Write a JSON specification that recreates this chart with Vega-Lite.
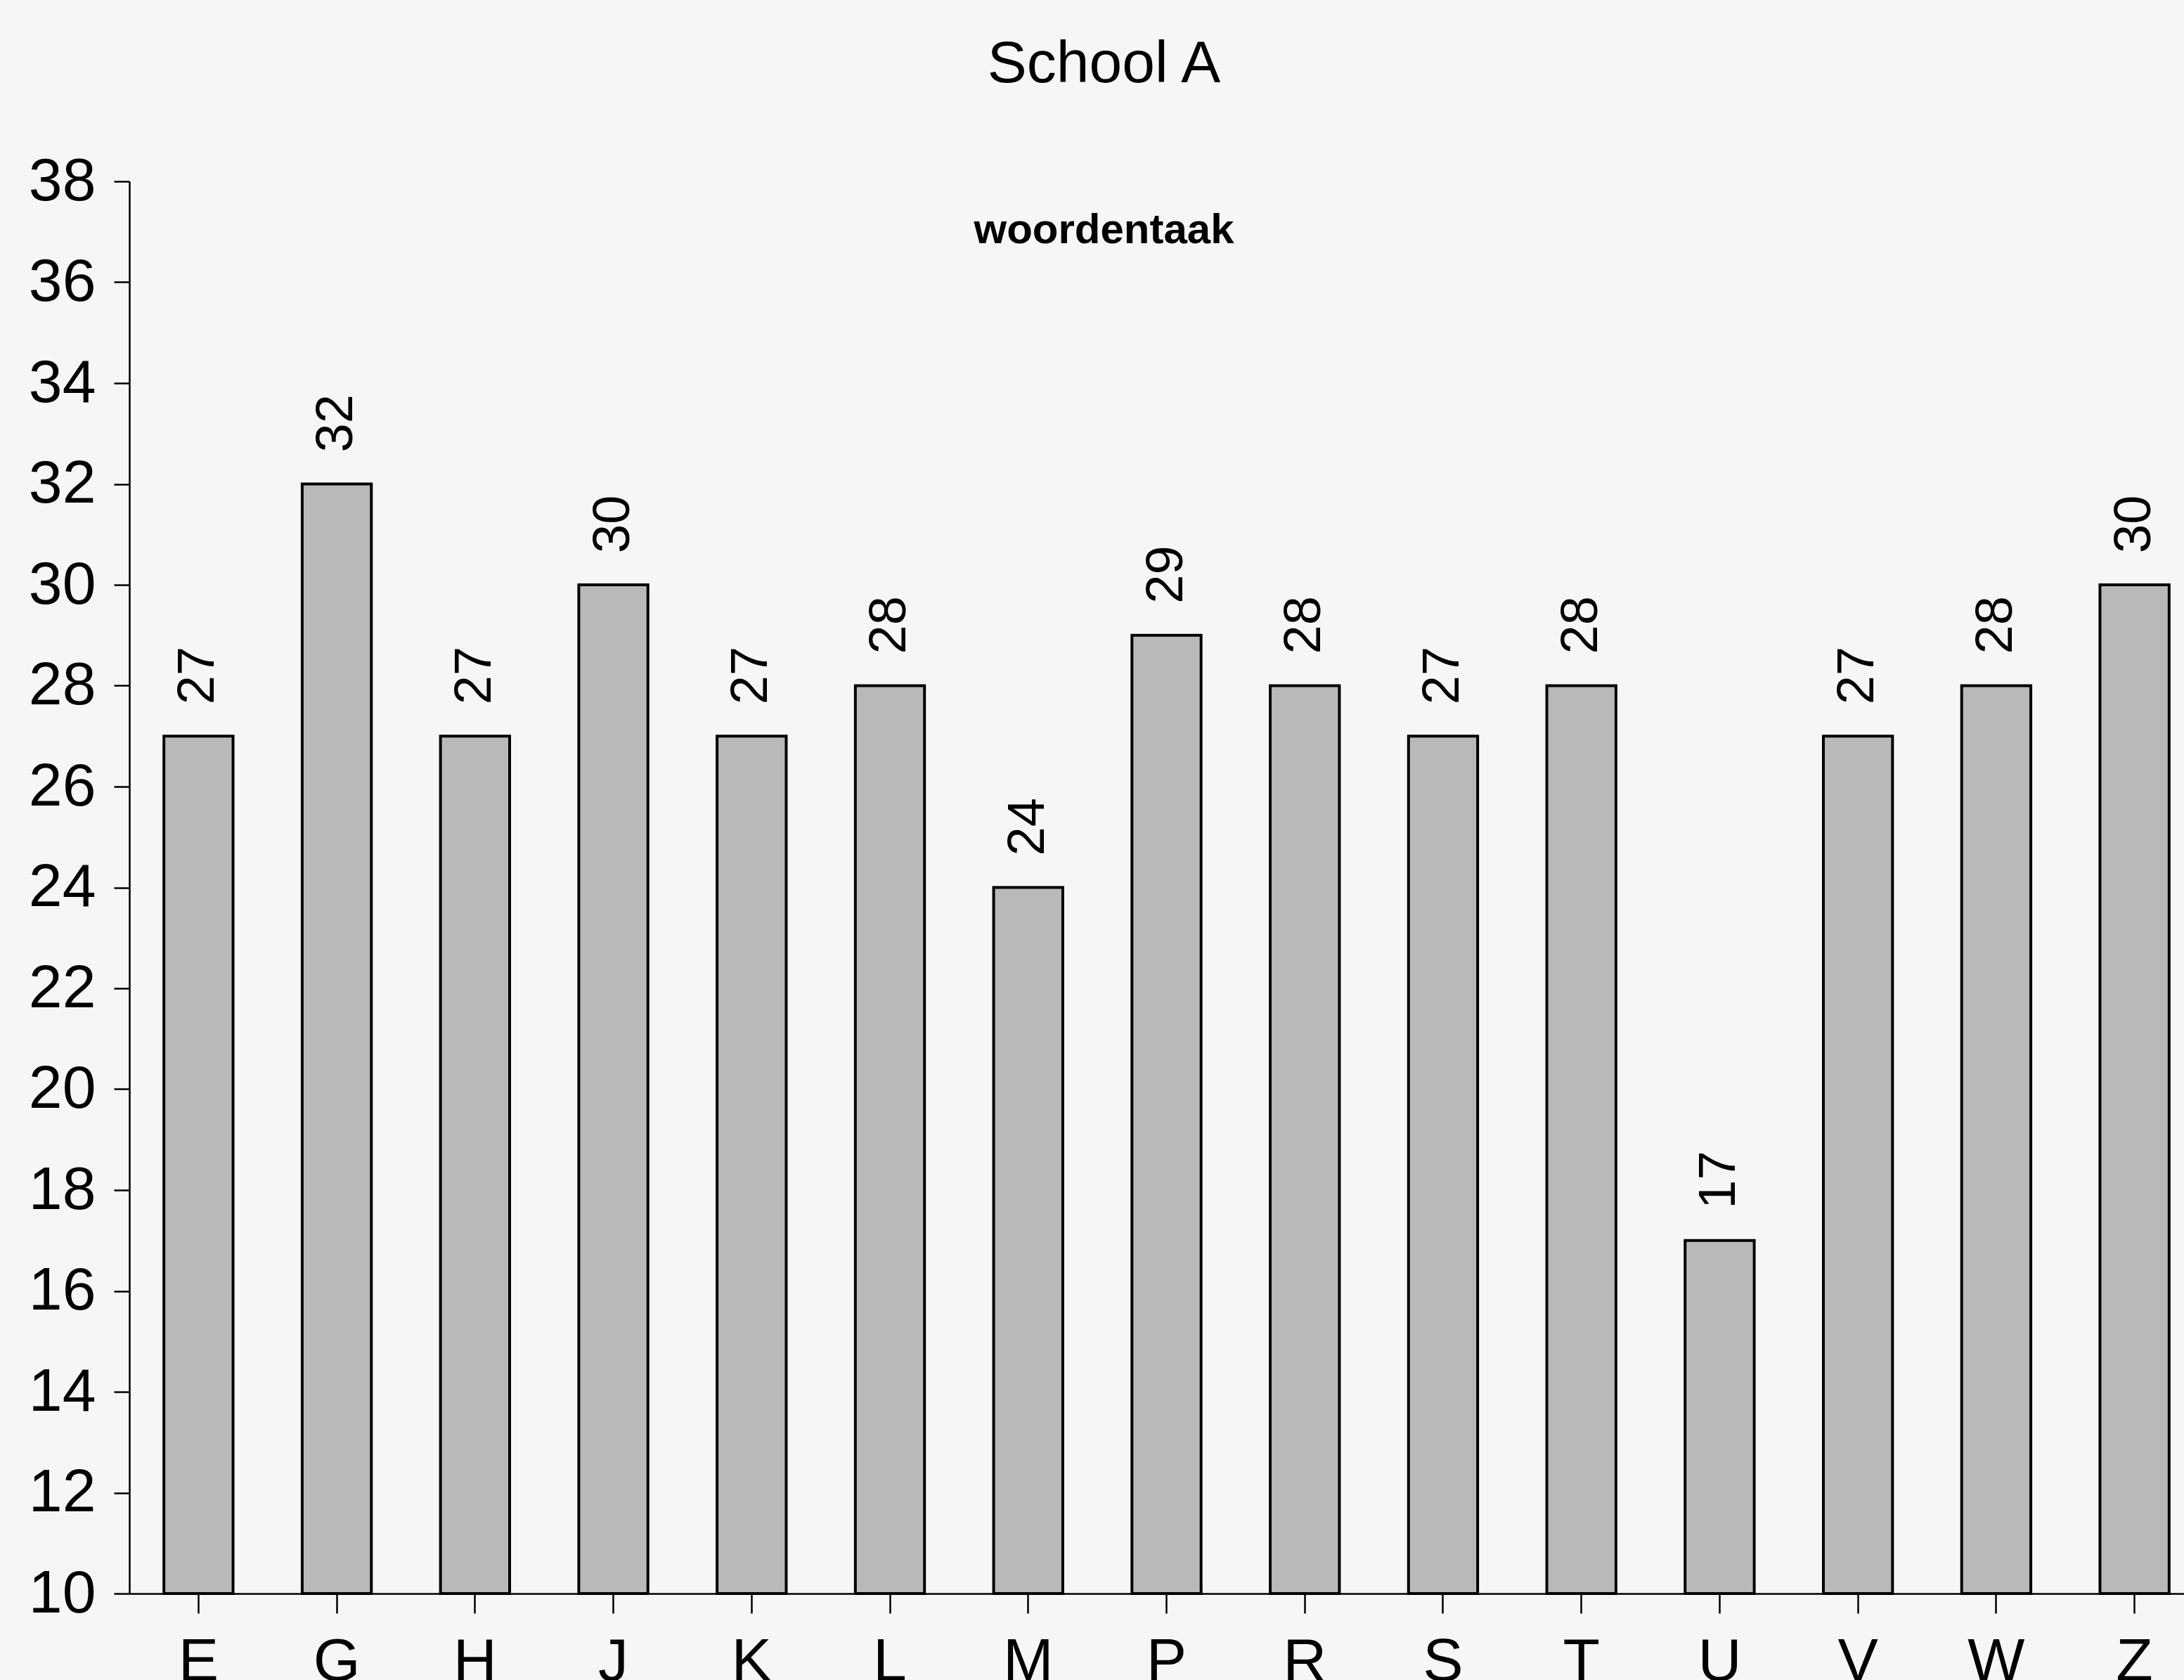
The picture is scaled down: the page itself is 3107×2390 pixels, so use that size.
{
  "$schema": "https://vega.github.io/schema/vega-lite/v6.json",
  "autosize": {"type": "none"},
  "width": 2951,
  "height": 2009,
  "padding": {"left": 184, "top": 258, "right": 0, "bottom": 123},
  "background": "#f6f6f6",
  "title": {
    "text": "School A",
    "subtitle": "woordentaak",
    "anchor": "middle",
    "frame": "group",
    "dx": -89,
    "offset": -144,
    "font": "Liberation Sans",
    "fontSize": 84,
    "fontWeight": "normal",
    "color": "black",
    "subtitleFont": "Liberation Sans",
    "subtitleFontSize": 60,
    "subtitleFontWeight": "bold",
    "subtitleColor": "black",
    "subtitlePadding": 164
  },
  "data": {
    "values": [
      {"school": "E", "score": 27},
      {"school": "G", "score": 32},
      {"school": "H", "score": 27},
      {"school": "J", "score": 30},
      {"school": "K", "score": 27},
      {"school": "L", "score": 28},
      {"school": "M", "score": 24},
      {"school": "P", "score": 29},
      {"school": "R", "score": 28},
      {"school": "S", "score": 27},
      {"school": "T", "score": 28},
      {"school": "U", "score": 17},
      {"school": "V", "score": 27},
      {"school": "W", "score": 28},
      {"school": "Z", "score": 30}
    ]
  },
  "encoding": {
    "x": {
      "field": "school",
      "type": "nominal",
      "sort": null,
      "scale": {"paddingInner": 0.5, "paddingOuter": 0.25},
      "axis": {
        "title": null,
        "labelAngle": 0,
        "labelFont": "Liberation Sans",
        "labelFontSize": 86,
        "labelColor": "black",
        "labelPadding": 27,
        "tickSize": 28,
        "tickColor": "black",
        "tickWidth": 2.5,
        "domainColor": "black",
        "domainWidth": 2.5,
        "grid": false
      }
    },
    "y": {
      "field": "score",
      "type": "quantitative",
      "scale": {"domain": [10, 38], "nice": false, "zero": false},
      "axis": {
        "title": null,
        "values": [10, 12, 14, 16, 18, 20, 22, 24, 26, 28, 30, 32, 34, 36, 38],
        "labelFont": "Liberation Sans",
        "labelFontSize": 86,
        "labelColor": "black",
        "labelPadding": 26,
        "tickSize": 22,
        "tickColor": "black",
        "tickWidth": 2.5,
        "domainColor": "black",
        "domainWidth": 2.5,
        "grid": false
      }
    }
  },
  "layer": [
    {
      "mark": {"type": "bar", "fill": "#b9b9b9", "stroke": "black", "strokeWidth": 4},
      "encoding": {"y2": {"datum": 10}}
    },
    {
      "mark": {
        "type": "text",
        "angle": 270,
        "align": "left",
        "baseline": "middle",
        "dx": 45,
        "font": "Liberation Sans",
        "fontSize": 74,
        "color": "black"
      },
      "encoding": {"text": {"field": "score", "type": "quantitative"}}
    }
  ],
  "config": {"view": {"stroke": null}}
}
